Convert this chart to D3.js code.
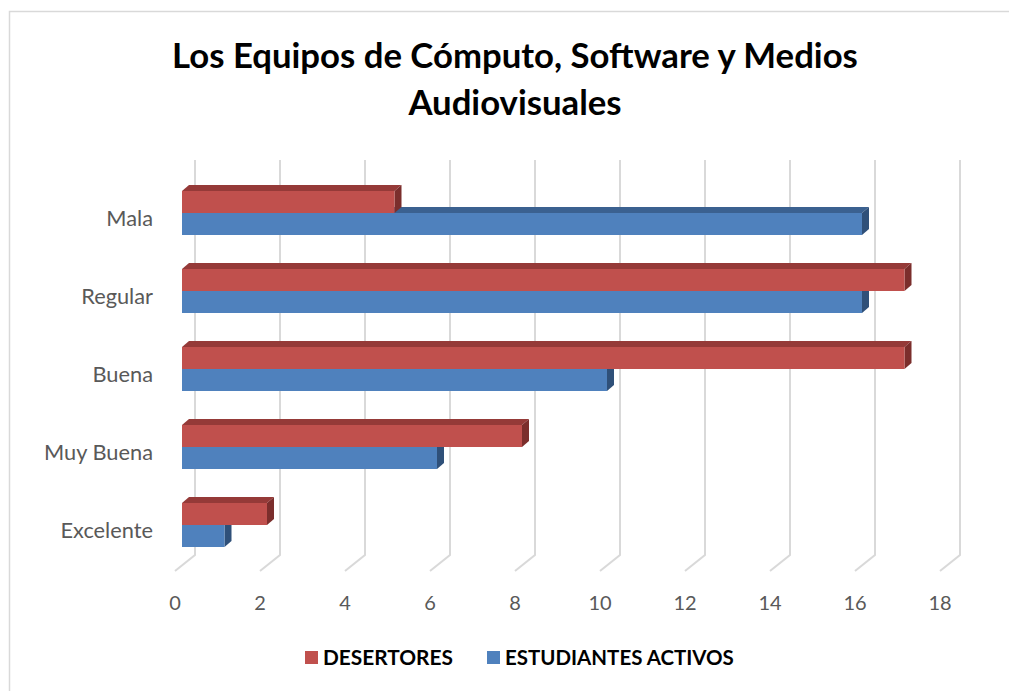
<!DOCTYPE html>
<html>
<head>
<meta charset="utf-8">
<script src="https://cdn.jsdelivr.net/npm/d3@7"></script>
<style>
  body { margin: 0; background: #fff; }
  text { font-family: Lato, "Open Sans", sans-serif; }
</style>
</head>
<body>
<svg id="chart" width="1009" height="691"></svg>
<script>
// dati
const categories = ["Mala", "Regular", "Buena", "Muy Buena", "Excelente"];
const seriesNames = ["DESERTORES", "ESTUDIANTES ACTIVOS"];
const desertores = [5, 17, 17, 8, 2];
const activos = [16, 16, 10, 6, 1];
const xTicks = [0, 2, 4, 6, 8, 10, 12, 14, 16, 18];
const titleLines = ["Los Equipos de Cómputo, Software y Medios", "Audiovisuales"];

const colors = {
  "DESERTORES": { front: "#C0504D", top: "#953A38", side: "#7B2E2C" },
  "ESTUDIANTES ACTIVOS": { front: "#4F81BD", top: "#3B6190", side: "#2F5079" }
};

const svg = d3.select("#chart");

// bordo del grafico
svg.append("rect")
  .attr("x", 9.5).attr("y", 11.5)
  .attr("width", 1020).attr("height", 700)
  .attr("fill", "none")
  .attr("stroke", "#D9D9D9")
  .attr("stroke-width", 1.5);

// piano frontale delle barre
const x = d3.scaleLinear().domain([0, 18]).range([182, 182 + 18 * 42.5]);
const y = d3.scaleBand().domain(categories).range([174, 564]);
const sub = d3.scaleBand().domain(seriesNames).range([-22, 22]);

// offset prospettiva
const wallDx = 13, wallDy = -14;   // dal piano barre alla parete di fondo
const floorDx = -20, floorDy = 16; // dalla parete al bordo frontale del pavimento
const barDx = 7, barDy = -6;        // profondità barra
const wallTop = 160, wallBottom = 555;

// fit del testo su una larghezza
function fitWidth(sel, target) {
  const w = sel.node().getComputedTextLength();
  const fs = parseFloat(sel.attr("font-size"));
  sel.attr("font-size", fs * target / w);
}

// griglia e pavimento
const grid = svg.append("g").attr("stroke", "#D9D9D9").attr("stroke-width", 2).attr("fill", "none");
xTicks.forEach(t => {
  const bx = x(t) + wallDx;
  grid.append("path")
    .attr("d", `M${bx},${wallTop} L${bx},${wallBottom} L${bx + floorDx},${wallBottom + floorDy}`);
});

// etichette asse x
svg.append("g").selectAll("text")
  .data(xTicks)
  .join("text")
  .attr("x", d => x(d) + wallDx + floorDx)
  .attr("y", 610)
  .attr("text-anchor", "middle")
  .attr("font-size", 20)
  .attr("fill", "#595959")
  .text(d => d);

// etichette categorie (dimensione presa da "Muy Buena")
const catLabels = svg.append("g").selectAll("text")
  .data(categories)
  .join("text")
  .attr("x", 153)
  .attr("y", d => y(d) + y.bandwidth() / 2 + 13)
  .attr("text-anchor", "end")
  .attr("font-size", 19)
  .attr("fill", "#595959")
  .text(d => d);
const probe = catLabels.filter(d => d === "Muy Buena");
fitWidth(probe, 109);
catLabels.attr("font-size", probe.attr("font-size"));

// barre 3D: dal basso verso l'alto, blu prima del rosso
const rows = [];
categories.forEach((c, i) => {
  rows.push({ cat: c, series: "ESTUDIANTES ACTIVOS", value: activos[i] });
  rows.push({ cat: c, series: "DESERTORES", value: desertores[i] });
});
rows.sort((a, b) => categories.indexOf(b.cat) - categories.indexOf(a.cat));

const bars = svg.append("g").selectAll("g.bar")
  .data(rows)
  .join("g")
  .attr("class", "bar");

bars.each(function (d) {
  const g = d3.select(this);
  const x0 = x(0), x1 = x(d.value);
  const yc = y(d.cat) + y.bandwidth() / 2;
  const y0 = yc + sub(d.series), y1 = y0 + sub.bandwidth();
  const col = colors[d.series];
  // faccia superiore
  g.append("path")
    .attr("d", `M${x0},${y0} L${x0 + barDx},${y0 + barDy} L${x1 + barDx},${y0 + barDy} L${x1},${y0} Z`)
    .attr("fill", col.top);
  // faccia laterale
  g.append("path")
    .attr("d", `M${x1},${y0} L${x1 + barDx},${y0 + barDy} L${x1 + barDx},${y1 + barDy} L${x1},${y1} Z`)
    .attr("fill", col.side);
  // faccia frontale
  g.append("rect")
    .attr("x", x0).attr("y", y0)
    .attr("width", x1 - x0).attr("height", y1 - y0)
    .attr("fill", col.front);
});

// titolo
const t1 = svg.append("text")
  .attr("x", 515).attr("y", 68)
  .attr("text-anchor", "middle")
  .attr("font-weight", "bold")
  .attr("font-size", 32)
  .attr("fill", "#000")
  .text(titleLines[0]);
fitWidth(t1, 686);
svg.append("text")
  .attr("x", 515).attr("y", 115)
  .attr("text-anchor", "middle")
  .attr("font-weight", "bold")
  .attr("font-size", t1.attr("font-size"))
  .attr("fill", "#000")
  .text(titleLines[1]);

// legenda
const legend = svg.append("g");
const legX = [305, 487];
seriesNames.forEach((s, i) => {
  legend.append("rect")
    .attr("x", legX[i]).attr("y", 651)
    .attr("width", 13).attr("height", 13)
    .attr("fill", colors[s].front);
  const lt = legend.append("text")
    .attr("x", legX[i] + 18).attr("y", 665)
    .attr("font-weight", "bold")
    .attr("font-size", 19)
    .attr("fill", "#000")
    .text(s);
  fitWidth(lt, i === 0 ? 130 : 229);
});
</script>
</body>
</html>
